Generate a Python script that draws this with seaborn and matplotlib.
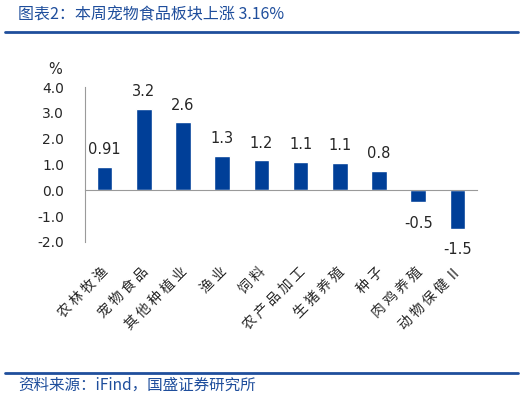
import matplotlib
matplotlib.use("Agg")
import matplotlib.pyplot as plt
from matplotlib.lines import Line2D
import numpy as np
import pandas as pd
import seaborn as sns

# 板块周涨跌幅（%）
sectors = ["农林牧渔", "宠物食品", "其他种植业", "渔业", "饲料", "农产品加工",
           "生猪养殖", "种子", "肉鸡养殖", "动物保健Ⅱ"]
changes = [0.91, 3.16, 2.63, 1.33, 1.16, 1.10, 1.05, 0.75, -0.46, -1.48]
value_labels = ["0.91", "3.2", "2.6", "1.3", "1.2", "1.1", "1.1", "0.8", "-0.5", "-1.5"]
y_ticks = [-2.0, -1.0, 0.0, 1.0, 2.0, 3.0, 4.0]

sns.set_style("white")
plt.rcParams["font.family"] = ["Noto Sans CJK SC", "DejaVu Sans"]

bar_color = "#003f98"
title_color = "#1f4e9c"
axis_color = "#9a9a9a"

df = pd.DataFrame({"sector": sectors, "change": changes})

fig = plt.figure(figsize=(5.26, 3.98), dpi=100)
ax = fig.add_axes([0.1616, 0.392, 0.7454, 0.3894])
sns.barplot(data=df, x="sector", y="change", color=bar_color, width=0.4,
            saturation=1, ax=ax)

ax.set_ylim(-2, 4)
ax.set_xlim(-0.5, len(sectors) - 0.5)
ax.set_yticks(y_ticks)
ax.set_yticklabels([f"{t:.1f}" for t in y_ticks], family="DejaVu Sans", fontsize=10)
ax.set_xlabel("")
ax.set_ylabel("")

# x axis at zero, ticks between categories
for s in ["top", "right"]:
    ax.spines[s].set_visible(False)
ax.spines["bottom"].set_position(("data", 0))
ax.spines["bottom"].set_color(axis_color)
ax.spines["left"].set_color(axis_color)
ax.set_xticks(np.arange(0.5, len(sectors) - 0.4, 1.0), minor=True)
ax.set_xticks(range(len(sectors)))
ax.tick_params(axis="x", which="major", length=0, pad=0)
ax.tick_params(axis="x", which="minor", direction="in", length=4, color=axis_color)
ax.tick_params(axis="y", direction="in", length=4, color=axis_color, pad=15)
ax.set_xticklabels([])

# category labels below the plot, rotated (spaced out like the original)
for i, name in enumerate(sectors):
    ax.annotate(" ".join(name), xy=(i, -2.0), xycoords="data", xytext=(-2, -16),
                textcoords="offset points", rotation=45, ha="right", va="top",
                rotation_mode="anchor", fontsize=10)

# value labels
for i, (v, lab) in enumerate(zip(changes, value_labels)):
    off = 7 if v >= 0 else -10
    ax.annotate(lab, xy=(i, v), xytext=(0, off), textcoords="offset points",
                ha="center", va="bottom" if v >= 0 else "top",
                family="DejaVu Sans", fontsize=10.5)

fig.text(55 / 526, 1 - 70 / 398, "%", ha="center", va="center",
         family="DejaVu Sans", fontsize=10.5)

# header and footer
fig.text(18 / 526, 1 - 15 / 398, "图表2：本周宠物食品板块上涨 3.16%", ha="left",
         va="center", color=title_color, fontsize=11.5, style="italic")
fig.add_artist(Line2D([5 / 526, 518 / 526], [1 - 32 / 398] * 2,
                      color=title_color, lw=2))
fig.add_artist(Line2D([5 / 526, 518 / 526], [1 - 373 / 398] * 2,
                      color=title_color, lw=2))
fig.text(18 / 526, 1 - 385 / 398, "资料来源：iFind，国盛证券研究所", ha="left",
         va="center", color=title_color, fontsize=11.2, style="italic")

fig.savefig("out.png", dpi=100)
